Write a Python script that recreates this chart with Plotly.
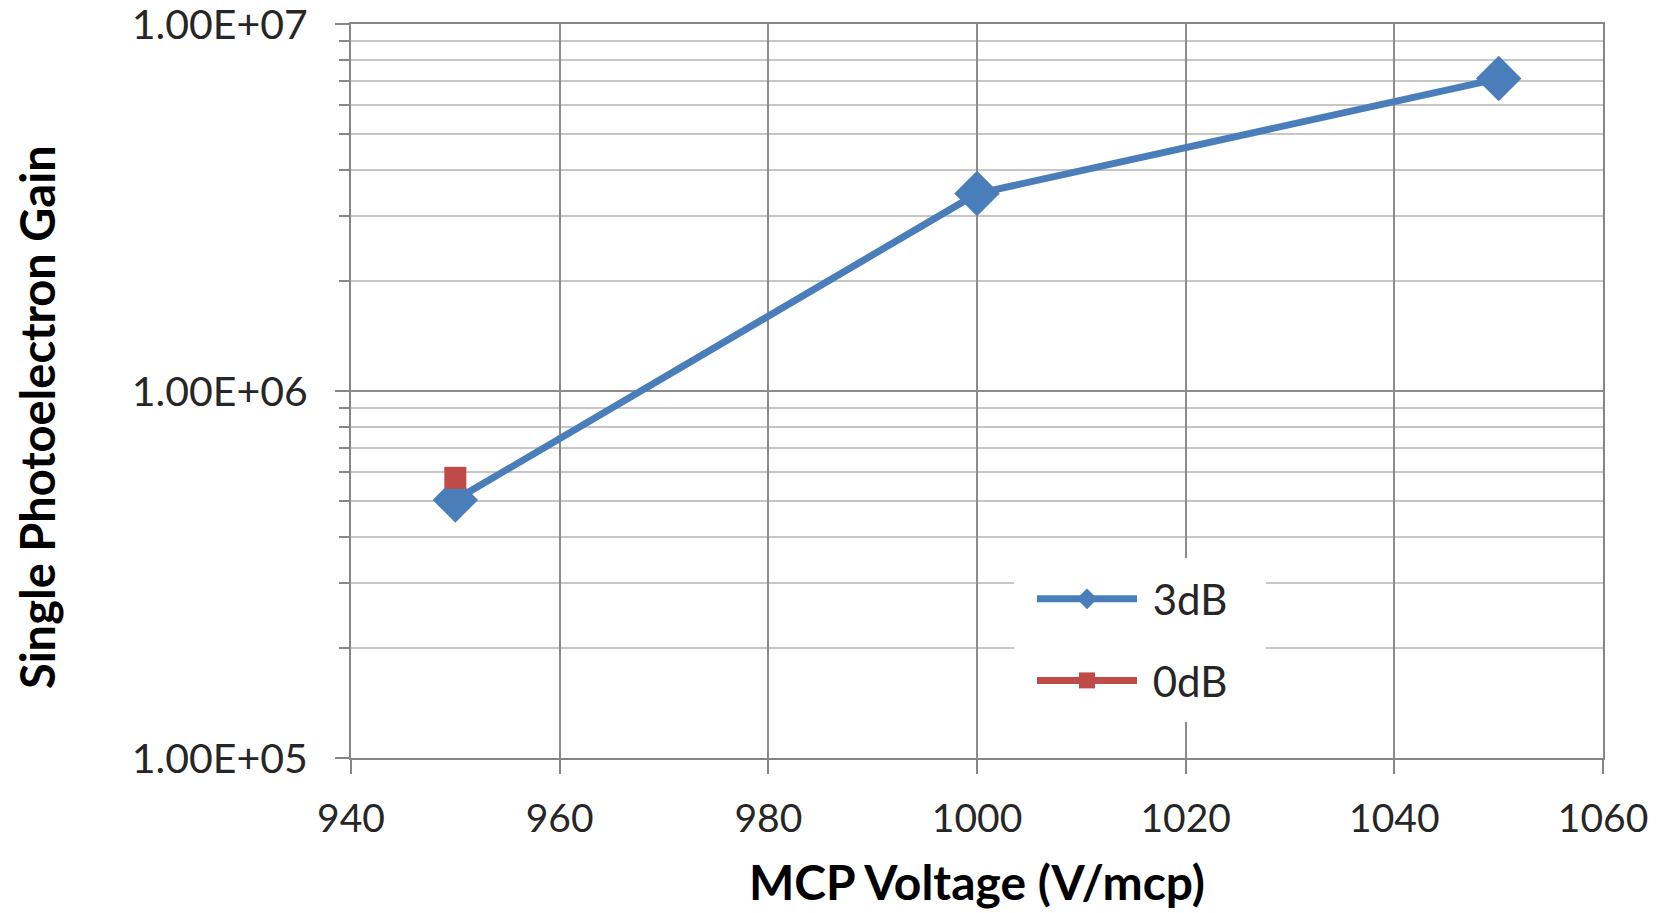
import plotly.graph_objects as go

voltage_3db = [950, 1000, 1050]
gain_3db = [5.05e5, 3.45e6, 7.1e6]
voltage_0db = [950]
gain_0db = [5.8e5]
series_names = ["3dB", "0dB"]
series_colors = ["#4a7ebb", "#be4b48"]
x_title = "MCP Voltage (V/mcp)"
y_title = "Single Photoelectron Gain"
y_tick_vals = [1e5, 1e6, 1e7]
y_tick_text = ["1.00E+05", "1.00E+06", "1.00E+07"]

FONT = "Lato"
# plot area wanted at x 351..1603, y 24..758 (body margin removed below)
W, H = 1668, 913
fig = go.Figure()
fig.add_trace(go.Scatter(
    x=voltage_3db, y=gain_3db, name="\u00a0" + series_names[0], mode="lines+markers",
    line=dict(color=series_colors[0], width=7),
    marker=dict(symbol="diamond", size=35, color=series_colors[0]),
    legendgroup="a",
))
fig.add_trace(go.Scatter(
    x=voltage_0db, y=gain_0db, name="\u00a0" + series_names[1], mode="lines+markers",
    line=dict(color=series_colors[1], width=7),
    marker=dict(symbol="square", size=22, color=series_colors[1]),
    legendgroup="b",
))

major = "#8c8c8c"
minor_c = "#c6c6c6"
axis = "#868686"

def px(xp):
    return (xp - 351) / 1252.0

def py(yp):
    return (758 - yp) / 734.0

shapes = [
    dict(type="rect", xref="paper", yref="paper", x0=px(1014), x1=px(1266),
         y0=py(722), y1=py(558), fillcolor="white", line=dict(width=0), layer="above"),
]

fig.update_layout(
    width=W, height=H,
    margin=dict(l=351, r=W - 1603, t=24, b=H - 758, autoexpand=False),
    paper_bgcolor="white", plot_bgcolor="white",
    font=dict(family=FONT, size=38, color="#262626"),
    showlegend=True,
    shapes=shapes,
    annotations=[
        dict(text="<b>" + y_title + "</b>", textangle=-90, showarrow=False,
             xref="paper", yref="paper", x=px(37), y=py(417),
             xanchor="center", yanchor="middle",
             font=dict(size=47, color="black", family=FONT)),
        dict(text="<b>" + x_title + "</b>", showarrow=False,
             xref="paper", yref="paper", x=px(977), y=py(912),
             xanchor="center", yanchor="bottom",
             font=dict(size=48, color="black", family=FONT)),
    ],
    legend=dict(
        x=px(1032), y=py(565), xanchor="left", yanchor="top",
        bgcolor="rgba(0,0,0,0)", font=dict(size=42, color="#262626"),
        tracegroupgap=24, itemwidth=100,
    ),
    xaxis=dict(
        range=[940, 1060], dtick=20, tick0=940,
        showgrid=True, gridcolor=major, gridwidth=2,
        showline=True, linecolor=axis, linewidth=2, mirror=True,
        ticks="outside", ticklen=14, tickwidth=2, tickcolor=axis,
        tickfont=dict(size=39, color="#262626"), ticklabelstandoff=11,
        zeroline=False, automargin=False,
    ),
    yaxis=dict(
        type="log", range=[5, 7],
        tickvals=y_tick_vals, ticktext=y_tick_text,
        ticklabeloverflow="allow", ticklabelstandoff=19, ticklabelshift=1,
        showgrid=True, gridcolor=major, gridwidth=2,
        showline=True, linecolor=axis, linewidth=2, mirror=True,
        ticks="outside", ticklen=14, tickwidth=2, tickcolor=axis,
        tickfont=dict(size=41, color="#262626"),
        minor=dict(dtick="D1", showgrid=True, gridcolor=minor_c, gridwidth=2,
                   ticks="outside", ticklen=10, tickwidth=2, tickcolor=axis),
        zeroline=False, automargin=False,
    ),
)
fig.write_html(
    "out.html",
    config={"displayModeBar": False},
    post_script="document.body.style.margin='0';document.body.style.overflow='hidden';",
)
